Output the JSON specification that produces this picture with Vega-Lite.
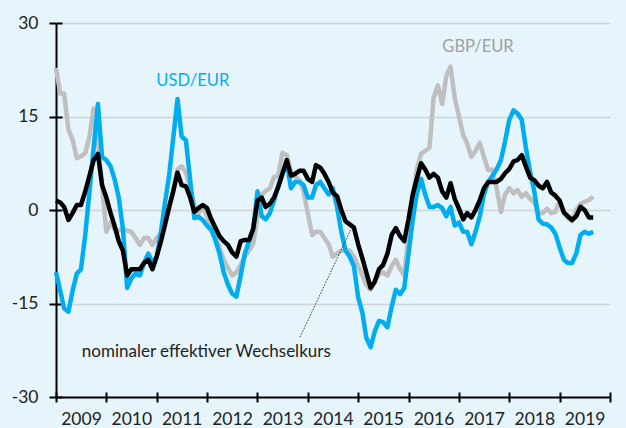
{
  "$schema": "https://vega.github.io/schema/vega-lite/v6.json",
  "width": 554,
  "height": 374,
  "autosize": "none",
  "padding": {"left": 56, "top": 23, "right": 16, "bottom": 31},
  "background": "#e6f4fc",
  "config": {"view": {"stroke": null}, "font": "Lato"},
  "resolve": {"axis": {"x": "independent", "y": "independent"}},
  "datasets": {
    "series": [
      {"d":"2009-01-01","g":22.8,"u":-10,"n":1.5},{"d":"2009-02-01","g":18.7,"u":-13,"n":1.2},{"d":"2009-03-01","g":18.7,"u":-15.8,"n":0.5},{"d":"2009-04-01","g":12.9,"u":-16.3,"n":-1.6},{"d":"2009-05-01","g":11.3,"u":-13,"n":-0.5},{"d":"2009-06-01","g":8.3,"u":-10.2,"n":0.8},{"d":"2009-07-01","g":8.6,"u":-9.5,"n":0.8},{"d":"2009-08-01","g":9.1,"u":-4,"n":3},{"d":"2009-09-01","g":11.8,"u":3,"n":5.5},{"d":"2009-10-01","g":16.3,"u":10,"n":8},{"d":"2009-11-01","g":11,"u":17,"n":9},{"d":"2009-12-01","g":4,"u":8.5,"n":4},
      {"d":"2010-01-01","g":-3.5,"u":8,"n":2},{"d":"2010-02-01","g":-2,"u":7,"n":-0.5},{"d":"2010-03-01","g":-3,"u":5,"n":-2.5},{"d":"2010-04-01","g":-3.3,"u":2,"n":-5},{"d":"2010-05-01","g":-3.2,"u":-3,"n":-6.5},{"d":"2010-06-01","g":-3.3,"u":-12.5,"n":-10.5},{"d":"2010-07-01","g":-3.5,"u":-11,"n":-9.5},{"d":"2010-08-01","g":-4.5,"u":-10.2,"n":-9.5},{"d":"2010-09-01","g":-5.6,"u":-10.5,"n":-9.5},{"d":"2010-10-01","g":-4.5,"u":-8.5,"n":-8.5},{"d":"2010-11-01","g":-4.5,"u":-7,"n":-8},{"d":"2010-12-01","g":-5.6,"u":-8.5,"n":-9.5},
      {"d":"2011-01-01","g":-4.5,"u":-7.5,"n":-7.5},{"d":"2011-02-01","g":-3.8,"u":-3.5,"n":-5},{"d":"2011-03-01","g":-2.5,"u":1,"n":-2.5},{"d":"2011-04-01","g":0,"u":5.5,"n":0.5},{"d":"2011-05-01","g":3,"u":11.5,"n":3},{"d":"2011-06-01","g":6.5,"u":17.8,"n":6},{"d":"2011-07-01","g":7,"u":11.8,"n":4},{"d":"2011-08-01","g":6,"u":11.2,"n":3.8},{"d":"2011-09-01","g":3.5,"u":4.8,"n":2},{"d":"2011-10-01","g":0.8,"u":-1.3,"n":-0.3},{"d":"2011-11-01","g":-0.5,"u":-1.1,"n":0.3},{"d":"2011-12-01","g":0.5,"u":-1.6,"n":0.8},
      {"d":"2012-01-01","g":-1,"u":-2.5,"n":0.3},{"d":"2012-02-01","g":-2.5,"u":-3.2,"n":-1.5},{"d":"2012-03-01","g":-4,"u":-4.8,"n":-2.8},{"d":"2012-04-01","g":-6,"u":-7,"n":-4.2},{"d":"2012-05-01","g":-8,"u":-10,"n":-5},{"d":"2012-06-01","g":-9.3,"u":-12,"n":-5.6},{"d":"2012-07-01","g":-10.5,"u":-13.4,"n":-6.8},{"d":"2012-08-01","g":-10,"u":-13.9,"n":-7.5},{"d":"2012-09-01","g":-8.8,"u":-10.5,"n":-5},{"d":"2012-10-01","g":-7.5,"u":-7,"n":-4.8},{"d":"2012-11-01","g":-6.5,"u":-5,"n":-4.8},{"d":"2012-12-01","g":-5.4,"u":-3,"n":-3},
      {"d":"2013-01-01","g":-1,"u":3,"n":1.5},{"d":"2013-02-01","g":2.5,"u":-1,"n":2},{"d":"2013-03-01","g":3,"u":-1.5,"n":0.5},{"d":"2013-04-01","g":3.5,"u":-0.5,"n":1},{"d":"2013-05-01","g":5.3,"u":1.5,"n":2},{"d":"2013-06-01","g":5.5,"u":4,"n":3.7},{"d":"2013-07-01","g":9.2,"u":6,"n":5.8},{"d":"2013-08-01","g":8.8,"u":7.5,"n":8},{"d":"2013-09-01","g":6.2,"u":3.5,"n":5.5},{"d":"2013-10-01","g":5.3,"u":4.5,"n":5.8},{"d":"2013-11-01","g":4.8,"u":4.5,"n":6.3},{"d":"2013-12-01","g":3,"u":4,"n":6.3},
      {"d":"2014-01-01","g":-0.5,"u":2,"n":5},{"d":"2014-02-01","g":-4,"u":2,"n":4.5},{"d":"2014-03-01","g":-3.5,"u":4,"n":7.2},{"d":"2014-04-01","g":-3.5,"u":4.5,"n":6.8},{"d":"2014-05-01","g":-4.5,"u":3.5,"n":5.8},{"d":"2014-06-01","g":-5.5,"u":2.5,"n":4.5},{"d":"2014-07-01","g":-7.5,"u":3.5,"n":2.8},{"d":"2014-08-01","g":-7,"u":0.5,"n":2.2},{"d":"2014-09-01","g":-6.5,"u":-3.5,"n":0},{"d":"2014-10-01","g":-6.5,"u":-6.5,"n":-1.8},{"d":"2014-11-01","g":-6.5,"u":-7.5,"n":-2.3},{"d":"2014-12-01","g":-7.5,"u":-9,"n":-2.8},
      {"d":"2015-01-01","g":-9,"u":-14,"n":-5.5},{"d":"2015-02-01","g":-10.5,"u":-16.5,"n":-7.8},{"d":"2015-03-01","g":-12,"u":-20.5,"n":-10},{"d":"2015-04-01","g":-12.8,"u":-22,"n":-12.5},{"d":"2015-05-01","g":-11.5,"u":-19.5,"n":-11.5},{"d":"2015-06-01","g":-10.3,"u":-17.8,"n":-9.5},{"d":"2015-07-01","g":-10,"u":-18,"n":-8.8},{"d":"2015-08-01","g":-10.5,"u":-18.8,"n":-7},{"d":"2015-09-01","g":-9,"u":-15.5,"n":-4},{"d":"2015-10-01","g":-8,"u":-12.8,"n":-2.9},{"d":"2015-11-01","g":-9.5,"u":-13.5,"n":-4.2},{"d":"2015-12-01","g":-10.5,"u":-12.5,"n":-5},
      {"d":"2016-01-01","g":-4,"u":-7,"n":-1.5},{"d":"2016-02-01","g":2,"u":-1.5,"n":2.5},{"d":"2016-03-01","g":6.5,"u":2.5,"n":5},{"d":"2016-04-01","g":9,"u":5,"n":7.5},{"d":"2016-05-01","g":9.5,"u":2.5,"n":6.5},{"d":"2016-06-01","g":10,"u":0.5,"n":5.2},{"d":"2016-07-01","g":18,"u":0.5,"n":5.8},{"d":"2016-08-01","g":20,"u":0.8,"n":5.2},{"d":"2016-09-01","g":17,"u":0.3,"n":3},{"d":"2016-10-01","g":21.5,"u":-1,"n":2},{"d":"2016-11-01","g":23,"u":0.5,"n":4.3},{"d":"2016-12-01","g":18,"u":-2.5,"n":1.8},
      {"d":"2017-01-01","g":15,"u":-2,"n":0.2},{"d":"2017-02-01","g":12,"u":-3.5,"n":-1.5},{"d":"2017-03-01","g":10.7,"u":-3.5,"n":-0.5},{"d":"2017-04-01","g":8.5,"u":-5.5,"n":-1.2},{"d":"2017-05-01","g":9.5,"u":-3.5,"n":0},{"d":"2017-06-01","g":10.8,"u":-1,"n":1.6},{"d":"2017-07-01","g":8.5,"u":2.5,"n":3.5},{"d":"2017-08-01","g":6.4,"u":4.5,"n":4.5},{"d":"2017-09-01","g":6.5,"u":5.5,"n":4.5},{"d":"2017-10-01","g":3.5,"u":6.5,"n":4.5},{"d":"2017-11-01","g":-0.3,"u":8,"n":5},{"d":"2017-12-01","g":2.5,"u":11,"n":5.9},
      {"d":"2018-01-01","g":3.5,"u":14.5,"n":6.6},{"d":"2018-02-01","g":2.7,"u":16,"n":7.8},{"d":"2018-03-01","g":3.2,"u":15.5,"n":8},{"d":"2018-04-01","g":2.1,"u":14.5,"n":8.8},{"d":"2018-05-01","g":2.7,"u":10,"n":7},{"d":"2018-06-01","g":1.8,"u":6,"n":5.2},{"d":"2018-07-01","g":1.2,"u":3,"n":4.8},{"d":"2018-08-01","g":-0.5,"u":-1.5,"n":3.9},{"d":"2018-09-01","g":-0.5,"u":-2.2,"n":3.5},{"d":"2018-10-01","g":0.2,"u":-2.3,"n":4.5},{"d":"2018-11-01","g":-0.5,"u":-2.8,"n":2.8},{"d":"2018-12-01","g":-0.3,"u":-3.8,"n":2.3},
      {"d":"2019-01-01","g":1.5,"u":-6,"n":1.5},{"d":"2019-02-01","g":-0.5,"u":-8,"n":-0.4},{"d":"2019-03-01","g":-1.3,"u":-8.5,"n":-1},{"d":"2019-04-01","g":-1.8,"u":-8.5,"n":-1.6},{"d":"2019-05-01","g":0,"u":-7,"n":-1},{"d":"2019-06-01","g":1,"u":-4,"n":0.5},{"d":"2019-07-01","g":1.3,"u":-3.5,"n":0},{"d":"2019-08-01","g":1.6,"u":-3.8,"n":-1.2},{"d":"2019-09-01","g":2.1,"u":-3.5,"n":-1.2}
    ]
  },
  "layer": [
    {
      "data": {"name": "series"},
      "transform": [{"fold": ["g", "u", "n"], "as": ["s", "v"]}],
      "mark": {"type": "line", "strokeWidth": 4.5, "strokeJoin": "round", "strokeCap": "butt"},
      "encoding": {
        "x": {
          "field": "d", "type": "temporal",
          "scale": {"type": "utc", "domain": [{"year": 2009, "month": 1, "date": 1, "utc": true}, {"year": 2020, "month": 1, "date": 1, "utc": true}]},
          "axis": {
            "title": null,
            "orient": "bottom",
            "values": [
              {"year": 2009, "month": 1, "date": 1, "utc": true},{"year": 2010, "month": 1, "date": 1, "utc": true},{"year": 2011, "month": 1, "date": 1, "utc": true},{"year": 2012, "month": 1, "date": 1, "utc": true},{"year": 2013, "month": 1, "date": 1, "utc": true},{"year": 2014, "month": 1, "date": 1, "utc": true},{"year": 2015, "month": 1, "date": 1, "utc": true},{"year": 2016, "month": 1, "date": 1, "utc": true},{"year": 2017, "month": 1, "date": 1, "utc": true},{"year": 2018, "month": 1, "date": 1, "utc": true},{"year": 2019, "month": 1, "date": 1, "utc": true},{"year": 2020, "month": 1, "date": 1, "utc": true}
            ],
            "labelExpr": "utcyear(datum.value) > 2019 ? '' : utcFormat(datum.value, '%Y')",
            "labelOffset": 25,
            "labelAlign": "center",
            "labelFlush": false,
            "labelOverlap": false,
            "labelBound": false,
            "labelFontSize": 17.5,
            "labelColor": "#222222",
            "labelPadding": 8,
            "tickSize": 5,
            "tickWidth": 2,
            "tickColor": "#000000",
            "domainColor": "#000000",
            "domainWidth": 2,
            "grid": false
          }
        },
        "y": {
          "field": "v", "type": "quantitative",
          "scale": {"domain": [-30, 30], "nice": false, "zero": false},
          "axis": {
            "title": null,
            "orient": "left",
            "values": [-30, -15, 0, 15, 30],
            "labelExpr": "'' + datum.value",
            "labelFontSize": 17.5,
            "labelColor": "#222222",
            "labelPadding": 11,
            "tickSize": 7,
            "tickWidth": 2,
            "tickColor": "#000000",
            "domainColor": "#000000",
            "domainWidth": 2,
            "grid": true,
            "gridColor": "#cfd4d8",
            "gridWidth": 1.5
          }
        },
        "color": {
          "field": "s", "type": "nominal",
          "scale": {"domain": ["g", "u", "n"], "range": ["#bfbfbf", "#00aeef", "#000000"]},
          "legend": null
        }
      }
    },
    {
      "data": {"values": [{"d1": "2013-11-05", "v1": -20.4, "d2": "2014-11-16", "v2": -2.8}]},
      "mark": {"type": "rule", "color": "#333333", "strokeWidth": 1, "strokeDash": [1.5, 1.5]},
      "encoding": {
        "x": {
          "field": "d1", "type": "temporal",
          "axis": {
            "orient": "bottom", "title": null, "labels": false, "domain": false, "grid": false,
            "values": [
              {"year": 2009, "month": 1, "date": 1, "utc": true},{"year": 2010, "month": 1, "date": 1, "utc": true},{"year": 2011, "month": 1, "date": 1, "utc": true},{"year": 2012, "month": 1, "date": 1, "utc": true},{"year": 2013, "month": 1, "date": 1, "utc": true},{"year": 2014, "month": 1, "date": 1, "utc": true},{"year": 2015, "month": 1, "date": 1, "utc": true},{"year": 2016, "month": 1, "date": 1, "utc": true},{"year": 2017, "month": 1, "date": 1, "utc": true},{"year": 2018, "month": 1, "date": 1, "utc": true},{"year": 2019, "month": 1, "date": 1, "utc": true},{"year": 2020, "month": 1, "date": 1, "utc": true}
            ],
            "tickSize": -5, "tickWidth": 2, "tickColor": "#000000"
          }
        },
        "x2": {"field": "d2"},
        "y": {
          "field": "v1", "type": "quantitative",
          "axis": {
            "orient": "left", "title": null, "labels": false, "domain": false, "grid": false,
            "values": [-30, -15, 0, 15, 30],
            "tickSize": -6, "tickWidth": 2, "tickColor": "#000000"
          }
        },
        "y2": {"field": "v2"}
      }
    },
    {
      "data": {"values": [{"d": "2011-09-20", "v": 19.9, "t": "USD/EUR"}]},
      "mark": {"type": "text", "color": "#00aeef", "fontSize": 16.5, "align": "center", "baseline": "alphabetic"},
      "encoding": {
        "x": {"field": "d", "type": "temporal", "axis": null},
        "y": {"field": "v", "type": "quantitative", "axis": null},
        "text": {"field": "t"}
      }
    },
    {
      "data": {"values": [{"d": "2017-05-19", "v": 25.3, "t": "GBP/EUR"}]},
      "mark": {"type": "text", "color": "#a0a0a0", "fontSize": 16.5, "align": "center", "baseline": "alphabetic"},
      "encoding": {
        "x": {"field": "d", "type": "temporal", "axis": null},
        "y": {"field": "v", "type": "quantitative", "axis": null},
        "text": {"field": "t"}
      }
    },
    {
      "data": {"values": [{"d": "2009-07-07", "v": -23.6, "t": "nominaler effektiver Wechselkurs"}]},
      "mark": {"type": "text", "color": "#222222", "fontSize": 17, "align": "left", "baseline": "alphabetic"},
      "encoding": {
        "x": {"field": "d", "type": "temporal", "axis": null},
        "y": {"field": "v", "type": "quantitative", "axis": null},
        "text": {"field": "t"}
      }
    }
  ]
}
